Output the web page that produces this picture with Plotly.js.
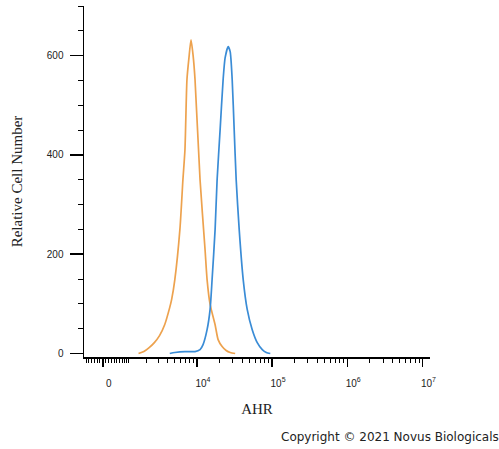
<!DOCTYPE html>
<html><head><meta charset="utf-8">
<script src="https://cdn.plot.ly/plotly-3.0.1.min.js"></script>
<style>html,body{margin:0;padding:0;background:#fff}#chart{width:499px;height:449px}</style>
</head><body><div id="chart"></div>
<script>
// Fluorescence intensity (AHR channel) and relative cell counts
const isotypeIntensity = [1490, 1817, 2188, 2611, 3095, 3651, 4295, 4560, 5038, 5903, 6484, 6905, 7350, 7823, 8327, 8861, 9429, 11007, 12844, 13664, 14994, 17481, 19171, 21683, 24526, 27743, 32340];
const isotypeCount     = [0, 4, 12, 22, 36, 58, 93, 109, 149, 250, 350, 410, 552, 596, 632, 602, 552, 350, 209, 149, 99, 58, 28, 14, 6, 2, 0];
const ahrIntensity = [4295, 5038, 6905, 9429, 11007, 12075, 13664, 14994, 15943, 17481, 18590, 20388, 22361, 23782, 26084, 27743, 29499, 31366, 33349, 36567, 41343, 46750, 54508, 63547, 74108, 83798, 94775];
const ahrCount     = [0, 2, 4, 4, 8, 18, 48, 89, 149, 250, 350, 451, 552, 596, 618, 608, 552, 451, 350, 250, 149, 89, 48, 22, 8, 2, 0];

const xTickValues = [0, 1e4, 1e5, 1e6, 1e7];
const xTickLabels = ['0', '10<sup>4</sup>', '10<sup>5</sup>', '10<sup>6</sup>', '10<sup>7</sup>'];
const yTickValues = [0, 200, 400, 600];
const yTickLabels = ['0', '200', '400', '600'];

// biexponential (logicle-like) display transform
const W = 562, C = Math.log10(W);
function bx(v){ return C + Math.asinh(v / (2 * W)) / Math.LN10; }

const minorVals = [];
for (let k = 1; k <= 10; k++) { minorVals.push(-100 * k); }
for (let k = 1; k <= 9; k++) { minorVals.push(100 * k); }
for (let d = 3; d <= 6; d++) {
  for (let m = 1; m <= 9; m++) {
    const v = m * Math.pow(10, d);
    if (xTickValues.indexOf(v) < 0) minorVals.push(v);
  }
}

const traces = [
  {x: isotypeIntensity.map(bx), y: isotypeCount, type: 'scatter', mode: 'lines',
   line: {color: '#EDA24E', width: 1.7, shape: 'spline', smoothing: 0.6}, hoverinfo: 'skip'},
  {x: ahrIntensity.map(bx), y: ahrCount, type: 'scatter', mode: 'lines',
   line: {color: '#3A8CD6', width: 1.7, shape: 'spline', smoothing: 0.6}, hoverinfo: 'skip'}
];

const tickFont = {family: 'Liberation Sans, Arial, sans-serif', size: 10, color: '#222'};
const layout = {
  width: 499, height: 449,
  margin: {l: 84, r: 69, t: 6, b: 92},
  paper_bgcolor: '#fff', plot_bgcolor: '#fff',
  showlegend: false,
  xaxis: {
    range: [2.5, 7.1], showgrid: false, zeroline: false,
    showline: true, linecolor: '#000', linewidth: 1.5,
    tickmode: 'array', tickvals: xTickValues.map(bx), ticktext: xTickLabels,
    ticks: 'outside', ticklen: 8, tickwidth: 1.5, tickcolor: '#000',
    minor: {tickmode: 'array', tickvals: minorVals.map(bx), ticks: 'outside', ticklen: 4, tickwidth: 1, tickcolor: '#000'},
    tickfont: tickFont, ticklabelstandoff: 8, ticklabelshift: 6,
    title: {text: 'AHR', font: {family: 'Liberation Serif, Times New Roman, serif', size: 15, color: '#222'}, standoff: 16}
  },
  yaxis: {
    range: [-7, 700], showgrid: false, zeroline: false,
    showline: true, linecolor: '#000', linewidth: 1.5,
    tickmode: 'array', tickvals: yTickValues, ticktext: yTickLabels,
    ticks: 'outside', ticklen: 13, tickwidth: 1.5, tickcolor: '#000',
    minor: {dtick: 50, ticks: 'outside', ticklen: 5, tickwidth: 1, tickcolor: '#000'},
    tickfont: tickFont, ticklabelstandoff: 4,
    title: {text: 'Relative Cell Number', font: {family: 'Liberation Serif, Times New Roman, serif', size: 15, color: '#222'}, standoff: 20}
  },
  annotations: [{
    text: 'Copyright \u00A9 2021 Novus Biologicals', xref: 'paper', yref: 'paper',
    x: 1.204, y: -0.228, xanchor: 'right', yanchor: 'middle', showarrow: false,
    font: {family: 'DejaVu Sans, sans-serif', size: 12, color: '#222'}
  }]
};
Plotly.newPlot('chart', traces, layout, {staticPlot: true, displayModeBar: false});
</script>
</body></html>
